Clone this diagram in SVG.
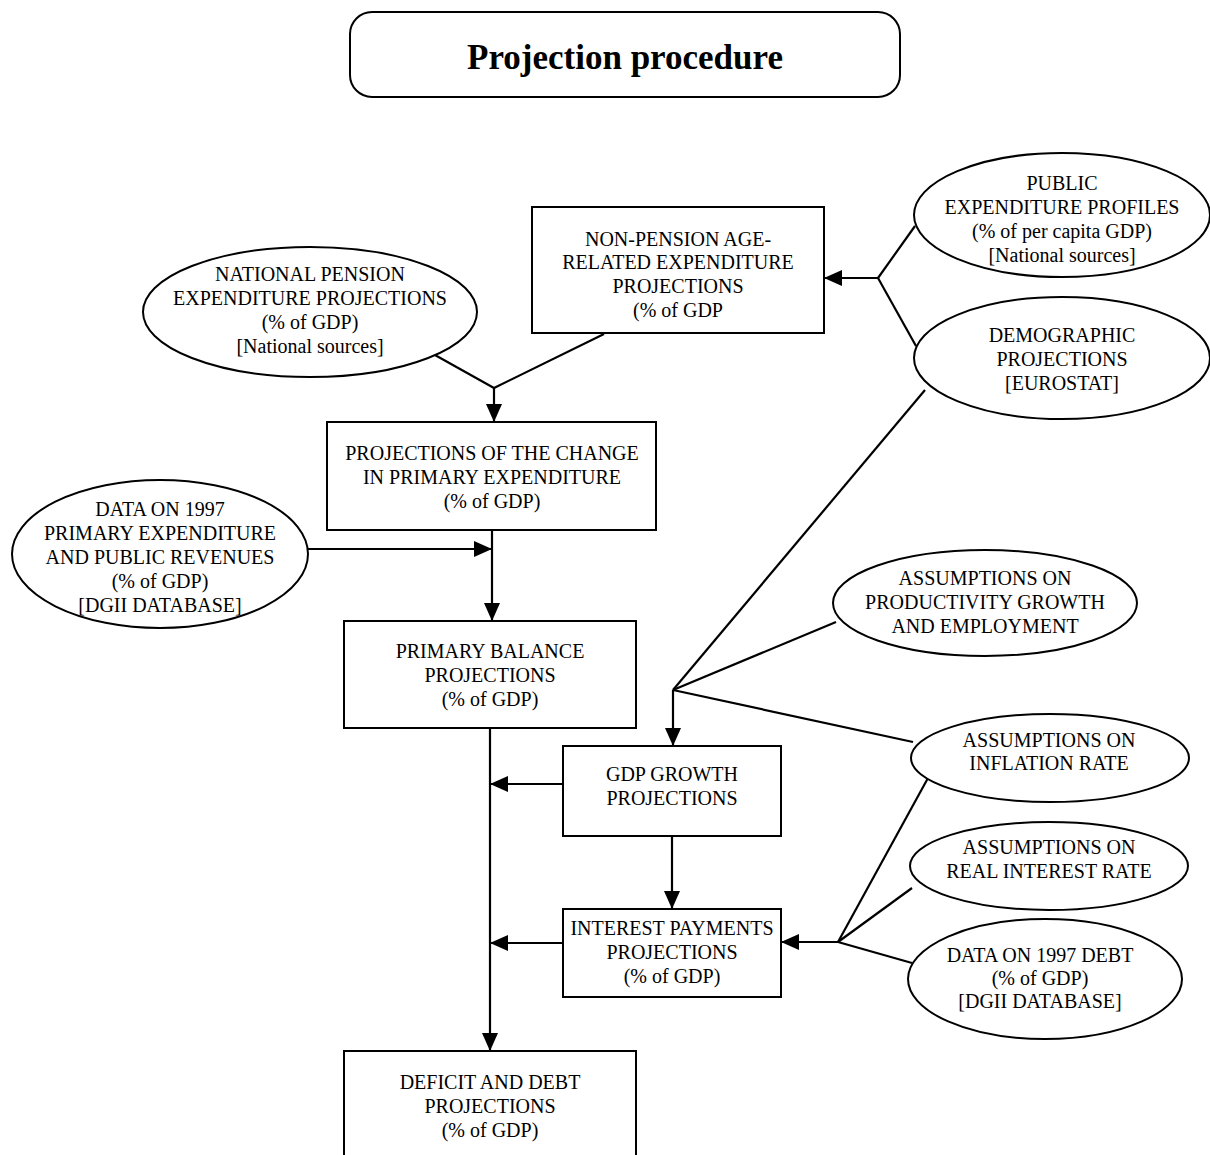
<svg xmlns="http://www.w3.org/2000/svg" width="1210" height="1155" viewBox="0 0 1210 1155">
<defs>
<style>
.box{fill:#fff;stroke:#000;stroke-width:2}
.ell{fill:#fff;stroke:#000;stroke-width:2}
.t{font-family:"Liberation Serif","Times New Roman",serif;font-size:20px;text-anchor:middle;fill:#000}
.title{font-family:"Liberation Serif","Times New Roman",serif;font-size:35px;font-weight:bold;text-anchor:middle;fill:#000}
.c{stroke:#000;stroke-width:2.2;fill:none}
.a{stroke:#000;stroke-width:2.2;fill:none;marker-end:url(#arr)}
</style>
<marker id="arr" markerUnits="userSpaceOnUse" markerWidth="18" markerHeight="16" refX="18" refY="8" orient="auto">
<path d="M0,0 L18,8 L0,16 z" fill="#000"/>
</marker>
</defs>
<rect width="1210" height="1155" fill="#fff"/>

<g id="title">
<rect x="350" y="12" width="550" height="85" rx="22" ry="22" class="box"/>
<text x="625" y="69" class="title">Projection procedure</text>
</g>

<g id="connectors">
<line x1="426" y1="350" x2="494" y2="388" class="c"/>
<line x1="604" y1="334" x2="494" y2="388" class="c"/>
<line x1="494" y1="388" x2="494" y2="422" class="a"/>
<line x1="915" y1="226" x2="878" y2="278" class="c"/>
<line x1="916" y1="346" x2="878" y2="278" class="c"/>
<line x1="878" y1="278" x2="824" y2="278" class="a"/>
<line x1="308" y1="549" x2="492" y2="549" class="a"/>
<line x1="492" y1="530" x2="492" y2="621" class="a"/>
<line x1="490" y1="728" x2="490" y2="1051" class="a"/>
<line x1="925" y1="390" x2="673" y2="690" class="c"/>
<line x1="836" y1="622" x2="673" y2="690" class="c"/>
<line x1="673" y1="690" x2="913" y2="742" class="c"/>
<line x1="673" y1="690" x2="673" y2="746" class="a"/>
<line x1="563" y1="784" x2="490" y2="784" class="a"/>
<line x1="672" y1="836" x2="672" y2="909" class="a"/>
<line x1="563" y1="943" x2="490" y2="943" class="a"/>
<line x1="928" y1="778" x2="838" y2="942" class="c"/>
<line x1="912" y1="888" x2="838" y2="942" class="c"/>
<line x1="912" y1="963" x2="838" y2="942" class="c"/>
<line x1="838" y1="942" x2="781" y2="942" class="a"/>
</g>

<g id="non-pension">
<rect x="532" y="207" width="292" height="126" class="box"/>
<text class="t"><tspan x="678" y="246">NON-PENSION AGE-</tspan><tspan x="678" y="269">RELATED EXPENDITURE</tspan><tspan x="678" y="293">PROJECTIONS</tspan><tspan x="678" y="317">(% of GDP</tspan></text>
</g>

<g id="national-pension">
<ellipse cx="310" cy="312" rx="167" ry="65" class="ell"/>
<text class="t"><tspan x="310" y="281">NATIONAL PENSION</tspan><tspan x="310" y="305">EXPENDITURE PROJECTIONS</tspan><tspan x="310" y="329">(% of GDP)</tspan><tspan x="310" y="353">[National sources]</tspan></text>
</g>

<g id="public-expenditure">
<ellipse cx="1062" cy="215" rx="148" ry="62" class="ell"/>
<text class="t"><tspan x="1062" y="190">PUBLIC</tspan><tspan x="1062" y="214">EXPENDITURE PROFILES</tspan><tspan x="1062" y="238">(% of per capita GDP)</tspan><tspan x="1062" y="262">[National sources]</tspan></text>
</g>

<g id="demographic">
<ellipse cx="1062" cy="358" rx="148" ry="61" class="ell"/>
<text class="t"><tspan x="1062" y="342">DEMOGRAPHIC</tspan><tspan x="1062" y="366">PROJECTIONS</tspan><tspan x="1062" y="390">[EUROSTAT]</tspan></text>
</g>

<g id="change-primary">
<rect x="327" y="422" width="329" height="108" class="box"/>
<text class="t"><tspan x="492" y="460">PROJECTIONS OF THE CHANGE</tspan><tspan x="492" y="484">IN PRIMARY EXPENDITURE</tspan><tspan x="492" y="508">(% of GDP)</tspan></text>
</g>

<g id="data-1997">
<ellipse cx="160" cy="554" rx="148" ry="74" class="ell"/>
<text class="t"><tspan x="160" y="516">DATA ON 1997</tspan><tspan x="160" y="540">PRIMARY EXPENDITURE</tspan><tspan x="160" y="564">AND PUBLIC REVENUES</tspan><tspan x="160" y="588">(% of GDP)</tspan><tspan x="160" y="612">[DGII DATABASE]</tspan></text>
</g>

<g id="productivity">
<ellipse cx="985" cy="603" rx="152" ry="53" class="ell"/>
<text class="t"><tspan x="985" y="585">ASSUMPTIONS ON</tspan><tspan x="985" y="609">PRODUCTIVITY GROWTH</tspan><tspan x="985" y="633">AND EMPLOYMENT</tspan></text>
</g>

<g id="primary-balance">
<rect x="344" y="621" width="292" height="107" class="box"/>
<text class="t"><tspan x="490" y="658">PRIMARY BALANCE</tspan><tspan x="490" y="682">PROJECTIONS</tspan><tspan x="490" y="706">(% of GDP)</tspan></text>
</g>

<g id="inflation">
<ellipse cx="1050" cy="758" rx="139" ry="44" class="ell"/>
<text class="t"><tspan x="1049" y="747">ASSUMPTIONS ON</tspan><tspan x="1049" y="770">INFLATION RATE</tspan></text>
</g>

<g id="gdp-growth">
<rect x="563" y="746" width="218" height="90" class="box"/>
<text class="t"><tspan x="672" y="781">GDP GROWTH</tspan><tspan x="672" y="805">PROJECTIONS</tspan></text>
</g>

<g id="real-interest">
<ellipse cx="1049" cy="866" rx="139" ry="44" class="ell"/>
<text class="t"><tspan x="1049" y="854">ASSUMPTIONS ON</tspan><tspan x="1049" y="878">REAL INTEREST RATE</tspan></text>
</g>

<g id="interest-payments">
<rect x="563" y="909" width="218" height="88" class="box"/>
<text class="t"><tspan x="672" y="935">INTEREST PAYMENTS</tspan><tspan x="672" y="959">PROJECTIONS</tspan><tspan x="672" y="983">(% of GDP)</tspan></text>
</g>

<g id="debt-1997">
<ellipse cx="1045" cy="979" rx="137" ry="60" class="ell"/>
<text class="t"><tspan x="1040" y="962">DATA ON 1997 DEBT</tspan><tspan x="1040" y="985">(% of GDP)</tspan><tspan x="1040" y="1008">[DGII DATABASE]</tspan></text>
</g>

<g id="deficit-debt">
<rect x="344" y="1051" width="292" height="120" class="box"/>
<text class="t"><tspan x="490" y="1089">DEFICIT AND DEBT</tspan><tspan x="490" y="1113">PROJECTIONS</tspan><tspan x="490" y="1137">(% of GDP)</tspan></text>
</g>
</svg>
